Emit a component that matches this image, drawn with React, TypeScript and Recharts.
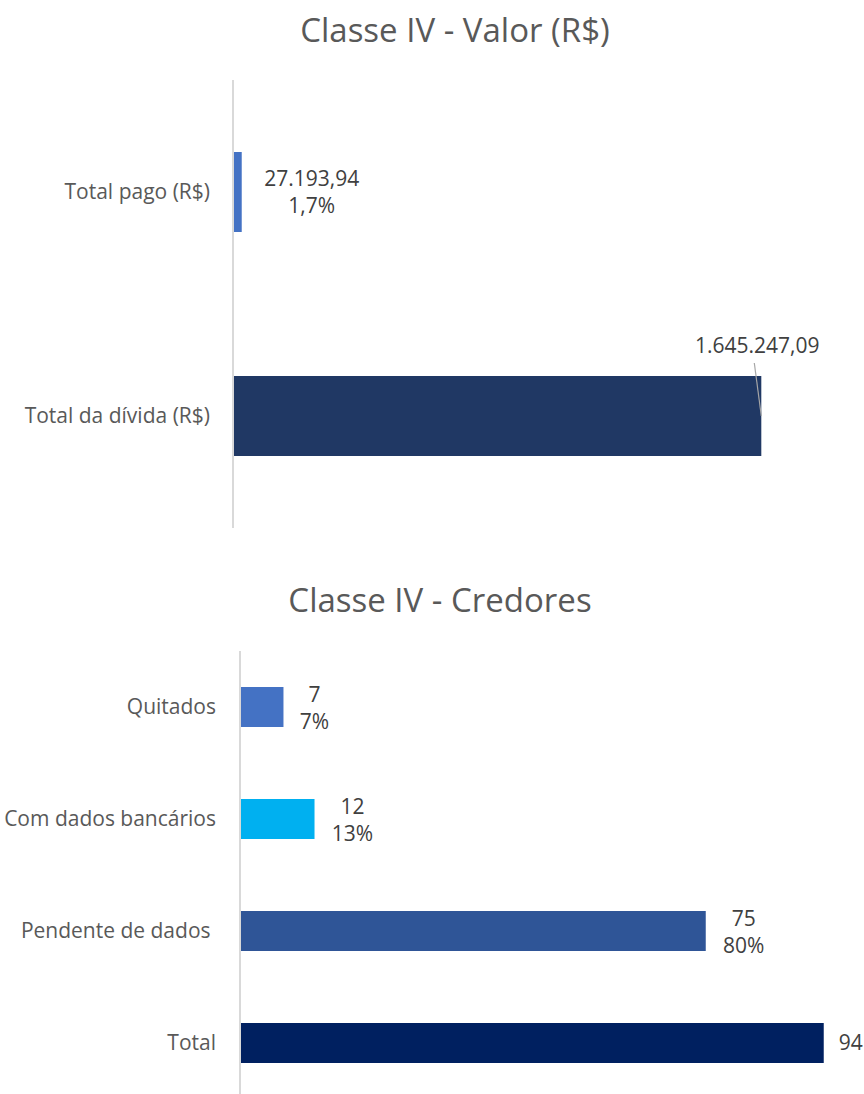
import React from "react";
import { Bar, BarChart, Cell, LabelList, XAxis, YAxis } from "recharts";

const FONT = "'Open Sans', sans-serif";

// Classe IV - Valor (R$)
const valorCategories = ["Total pago (R$)", "Total da dívida (R$)"];
const valorValues = [27193.94, 1645247.09];
const valorLabels = ["27.193,94", "1.645.247,09"];
const valorPercents = ["1,7%", ""];
const valorColors = ["#4472C4", "#203864"];

// Classe IV - Credores
const credoresCategories = ["Quitados", "Com dados bancários", "Pendente de dados ", "Total"];
const credoresValues = [7, 12, 75, 94];
const credoresPercents = ["7%", "13%", "80%", ""];
const credoresColors = ["#4472C4", "#00B0F0", "#2F5597", "#002060"];

const valorData = valorCategories.map((name, i) => ({ name, value: valorValues[i] }));
const credoresData = credoresCategories.map((name, i) => ({ name, value: credoresValues[i] }));

function CategoryTick({ x, y, payload }: any) {
  return (
    <text
      x={x}
      y={y}
      dy="0.35em"
      textAnchor="end"
      fill="#595959"
      fontSize={21}
      fontFamily={FONT}
      style={{ whiteSpace: "pre" }}
    >
      {payload.value}
    </text>
  );
}

function ValorLabel(props: any) {
  const x = Number(props.x), y = Number(props.y);
  const w = Number(props.width), h = Number(props.height);
  const i = props.index;
  const end = x + w;
  const cy = y + h / 2;
  if (valorPercents[i]) {
    const cx = end + 70;
    return (
      <text textAnchor="middle" fill="#404040" fontSize={21} fontFamily={FONT}>
        <tspan x={cx} y={cy - 13} dy="0.35em">{valorLabels[i]}</tspan>
        <tspan x={cx} y={cy + 14} dy="0.35em">{valorPercents[i]}</tspan>
      </text>
    );
  }
  // label sits above the bar end with a leader line
  return (
    <g>
      <line x1={end - 7} y1={y - 13} x2={end} y2={y + 40} stroke="#A6A6A6" strokeWidth={1.2} />
      <text x={end - 4} y={y - 30} dy="0.35em" textAnchor="middle" fill="#404040" fontSize={21} fontFamily={FONT}>
        {valorLabels[i]}
      </text>
    </g>
  );
}

function CredoresLabel(props: any) {
  const x = Number(props.x), y = Number(props.y);
  const w = Number(props.width), h = Number(props.height);
  const i = props.index;
  const end = x + w;
  const cy = y + h / 2;
  const pct = credoresPercents[i];
  if (!pct) {
    return (
      <text x={end + 15} y={cy} dy="0.35em" textAnchor="start" fill="#404040" fontSize={21} fontFamily={FONT}>
        {credoresValues[i]}
      </text>
    );
  }
  const cx = end + 16 + pct.length * 7 + 1;
  return (
    <text textAnchor="middle" fill="#404040" fontSize={21} fontFamily={FONT}>
      <tspan x={cx} y={cy - 12} dy="0.35em">{credoresValues[i]}</tspan>
      <tspan x={cx} y={cy + 15} dy="0.35em">{pct}</tspan>
    </text>
  );
}

function Title({ text, center, top }: { text: string; center: number; top: number }) {
  return (
    <div
      style={{
        position: "absolute",
        left: center - 250,
        width: 500,
        top,
        textAlign: "center",
        fontFamily: FONT,
        fontSize: 33,
        color: "#595959",
        lineHeight: "40px",
      }}
    >
      {text}
    </div>
  );
}

export default function App() {
  return (
    <div style={{ position: "absolute", left: 0, top: 0, width: 864, height: 1094, overflow: "hidden", background: "#fff" }}>
      <Title text="Classe IV - Valor (R$)" center={455} top={10} />
      <div style={{ position: "absolute", left: 0, top: 0 }}>
        <BarChart
          width={864}
          height={540}
          layout="vertical"
          data={valorData}
          margin={{ top: 80, right: 53, bottom: 12, left: 0 }}
        >
          <XAxis type="number" domain={[0, 1800000]} hide />
          <YAxis
            type="category"
            dataKey="name"
            width={233}
            axisLine={{ stroke: "#D9D9D9", strokeWidth: 2 }}
            tickLine={false}
            tickSize={0}
            tickMargin={23}
            tick={<CategoryTick />}
          />
          <Bar dataKey="value" barSize={80} isAnimationActive={false}>
            {valorData.map((d, i) => (
              <Cell key={d.name} fill={valorColors[i]} />
            ))}
            <LabelList dataKey="value" content={(p: any) => <ValorLabel {...p} />} />
          </Bar>
        </BarChart>
      </div>

      <Title text="Classe IV - Credores" center={440} top={580} />
      <div style={{ position: "absolute", left: 0, top: 560 }}>
        <BarChart
          width={864}
          height={539}
          layout="vertical"
          data={credoresData}
          margin={{ top: 91, right: 3, bottom: 0, left: 0 }}
        >
          <XAxis type="number" domain={[0, 100]} hide />
          <YAxis
            type="category"
            dataKey="name"
            width={240}
            axisLine={{ stroke: "#D9D9D9", strokeWidth: 2 }}
            tickLine={false}
            tickSize={0}
            tickMargin={24}
            tick={<CategoryTick />}
          />
          <Bar dataKey="value" barSize={40} isAnimationActive={false}>
            {credoresData.map((d, i) => (
              <Cell key={d.name} fill={credoresColors[i]} />
            ))}
            <LabelList dataKey="value" content={(p: any) => <CredoresLabel {...p} />} />
          </Bar>
        </BarChart>
      </div>
    </div>
  );
}
